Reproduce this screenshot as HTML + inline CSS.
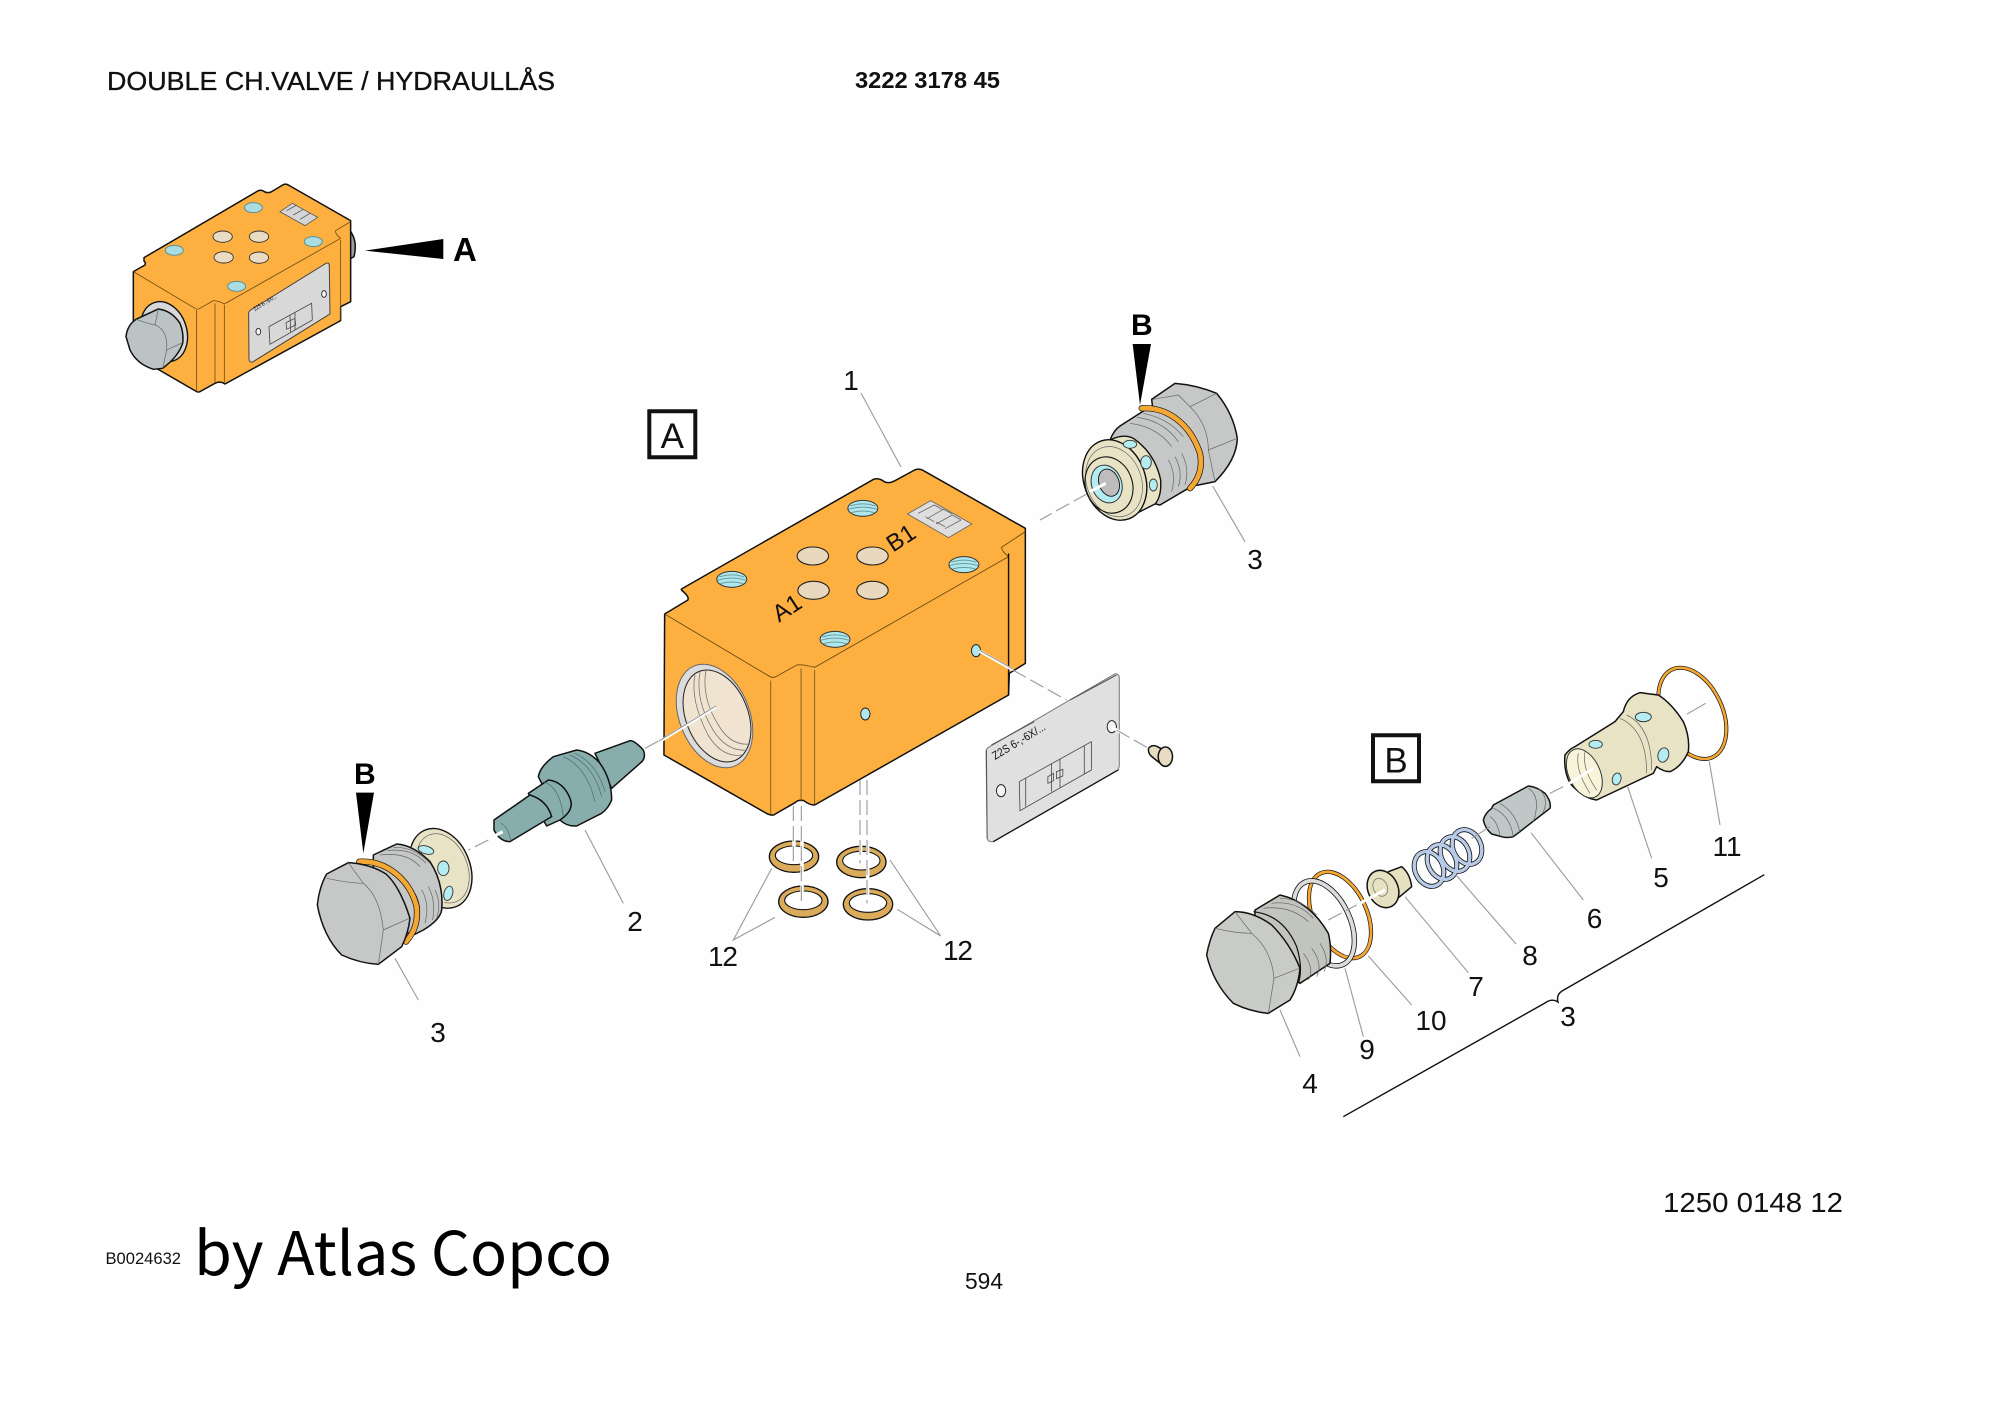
<!DOCTYPE html>
<html><head><meta charset="utf-8"><style>
html,body{margin:0;padding:0;background:#fff}
svg{display:block}
svg *{vector-effect:non-scaling-stroke}
text{font-family:"Liberation Sans",sans-serif;fill:#111}
.n{font-size:28px}
.k{stroke:#111;stroke-width:1.5;stroke-linejoin:round;stroke-linecap:round}
.t{fill:none;stroke:#666;stroke-width:.7}
.l{fill:none;stroke:#999;stroke-width:1.1}
.d{fill:none;stroke:#999;stroke-width:1.1;stroke-dasharray:15 5}
.w{fill:none;stroke:#fff;stroke-width:3}
.gr{fill:#c6c8c8}
.bh{fill:#b4ecf2;stroke:#333;stroke-width:.9}
.cr{fill:#e9e3c6;stroke:#111;stroke-width:1.4}
</style></head><body>
<svg xmlns="http://www.w3.org/2000/svg" width="2000" height="1415" viewBox="0 0 2000 1415">
<rect width="2000" height="1415" fill="#fff"/>
<rect x="124" y="183" width="1719" height="1039" fill="#fdfefd"/>

<text x="107" y="90" font-size="26" textLength="448" lengthAdjust="spacingAndGlyphs" stroke="#000" stroke-width=".3">DOUBLE CH.VALVE / HYDRAULLÅS</text>
<text x="855" y="88" font-size="23.5" font-weight="bold" textLength="145" lengthAdjust="spacingAndGlyphs">3222 3178 45</text>
<text x="105.5" y="1264" font-size="16.5" textLength="75.5" lengthAdjust="spacingAndGlyphs">B0024632</text>
<text x="194" y="1275" font-size="60" textLength="418" lengthAdjust="spacingAndGlyphs" style="font-family:'Noto Sans CJK SC',sans-serif;fill:#000">by Atlas Copco</text>
<text x="965" y="1289" font-size="23" textLength="38" lengthAdjust="spacingAndGlyphs">594</text>
<text x="1663" y="1212" font-size="28" textLength="180" lengthAdjust="spacingAndGlyphs">1250 0148 12</text>

<!-- thumbnail -->
<g transform="translate(100,160) scale(.3333)">
<path class="k" fill="#9aa0a0" d="M745,205 Q775,240 762,290 L745,300 Z"/>
<path class="k" fill="#fdb040" d="M100,335 L135,315 Q138,308 132,303 L132,293 L475,92 Q485,88 495,96 Q505,100 515,95 L550,74 Q558,70 565,75 L752,182 L752,425 L722,440 L722,482 L375,672 Q360,662 345,670 L300,695 Q295,697 290,695 L100,585 Z"/>
<path d="M100,335 L285,445 Q292,450 300,445 L340,422 Q355,422 373,432 L722,235 M722,235 Q705,222 707,212 L752,185 M290,450 L290,695 M345,430 L345,668 M373,435 L373,668 M722,240 L722,480" fill="none" stroke="#6a4a12" stroke-width=".8"/>
<g fill="#a9dde2" stroke="#5b8f90" stroke-width="1">
<ellipse cx="460" cy="143" rx="27" ry="15"/><ellipse cx="223" cy="271" rx="27" ry="15"/><ellipse cx="640" cy="245" rx="27" ry="15"/><ellipse cx="410" cy="379" rx="27" ry="15"/>
</g>
<g fill="#eadcc2" stroke="#333" stroke-width=".9">
<ellipse cx="368" cy="230" rx="29" ry="17"/><ellipse cx="477" cy="230" rx="29" ry="17"/><ellipse cx="371" cy="292" rx="29" ry="17"/><ellipse cx="477" cy="293" rx="29" ry="17"/>
</g>
<path d="M540,155 L577,130 L653,172 L615,197 Z M560,152 L590,135 M580,165 L610,148 M600,178 L630,160" fill="#d5d5d5" stroke="#555" stroke-width=".8"/>
<path d="M452,450 L678,310 Q688,306 688,318 L690,462 L458,606 Q448,608 447,598 L446,460 Q446,454 452,450 Z" fill="#d8d8d8" stroke="#444" stroke-width="1"/>
<path d="M507,500 L635,430 L637,480 L510,553 Z M570,465 L572,518 M585,458 L585,510 M558,488 L585,475 L587,495 L560,508 Z" fill="none" stroke="#444" stroke-width=".8"/>
<ellipse cx="475" cy="515" rx="7" ry="10" fill="#fff" stroke="#333"/><ellipse cx="672" cy="402" rx="7" ry="10" fill="#fff" stroke="#333"/>
<ellipse cx="192" cy="515" rx="68" ry="92" transform="rotate(-18 192 515)" fill="#d8d8d8" stroke="#111" stroke-width="1.4"/>
<path class="k" fill="#bcc3c4" d="M78,530 Q82,495 108,478 L175,447 Q215,452 240,490 Q252,520 248,550 Q235,590 188,625 L160,628 Q110,612 90,570 Z"/>
<path class="t" d="M108,478 Q140,490 165,495 L175,447 M165,495 Q205,510 200,570 L188,625 M200,570 L248,548"/>
<polygon points="795,272 1030,237 1030,297" fill="#000"/>
</g>
<text x="453" y="261" font-size="33" font-weight="bold" style="fill:#000">A</text>
<text transform="translate(255,311) rotate(-31)" font-size="6" textLength="26" lengthAdjust="spacingAndGlyphs">Z2S 6-,-6X/...</text>

<!-- A, B boxes -->
<rect x="649.3" y="411.3" width="46" height="46" fill="#fff" stroke="#111" stroke-width="4"/>
<text x="672.3" y="448" font-size="35" text-anchor="middle">A</text>
<rect x="1373" y="735.3" width="46" height="46" fill="#fff" stroke="#111" stroke-width="4"/>
<text x="1396" y="772.5" font-size="35" text-anchor="middle">B</text>

<!-- main block -->
<g transform="translate(620,440) scale(.35714,.33333)">
<path class="k" fill="#fdb040" d="M125,522 L190,480 Q195,470 172,450 L172,447 L710,118 Q725,112 740,125 Q752,132 770,122 L825,90 Q838,84 850,92 L1135,265 L1135,670 L1090,700 L1088,765 L545,1095 Q530,1095 515,1082 Q500,1078 490,1088 L430,1125 Q422,1127 410,1120 L123,945 Z"/>
<path d="M125,522 L420,710 Q430,715 440,708 L495,675 Q510,672 545,682 L1088,350 M1088,350 Q1070,335 1068,322 L1135,275" fill="none" stroke="#6a4a12" stroke-width=".9"/>
<path d="M422,722 L422,1122 M507,685 L507,1085 M545,690 L545,1092" fill="none" stroke="#7a5a20" stroke-width=".9"/>
<path d="M1088,340 L1088,765" fill="none" stroke="#111" stroke-width="1.4"/>
<g fill="#aee8ee" stroke="#333" stroke-width="1">
<ellipse cx="680" cy="205" rx="42" ry="24"/><ellipse cx="313" cy="418" rx="42" ry="24"/><ellipse cx="963" cy="374" rx="42" ry="24"/><ellipse cx="602" cy="598" rx="42" ry="24"/>
</g>
<path d="M645,198 Q680,185 715,198 M640,208 Q680,195 720,208 M648,218 Q680,208 712,218 M278,411 Q313,398 348,411 M273,421 Q313,408 353,421 M281,431 Q313,421 345,431 M928,367 Q963,354 998,367 M923,377 Q963,364 1003,377 M931,387 Q963,377 995,387 M567,591 Q602,578 637,591 M562,601 Q602,588 642,601 M570,611 Q602,601 634,611" fill="none" stroke="#6e9c9d" stroke-width="1"/>
<g fill="#e8d9be" stroke="#222" stroke-width="1.1">
<ellipse cx="540" cy="348" rx="44" ry="27"/><ellipse cx="707" cy="348" rx="44" ry="27"/><ellipse cx="542" cy="451" rx="44" ry="27"/><ellipse cx="707" cy="451" rx="44" ry="27"/>
</g>
<path d="M805,222 L870,182 L985,252 L920,293 Z" fill="#dedede" stroke="#666" stroke-width=".9"/>
<path d="M835,220 L880,195 L905,210 M860,236 L905,208 L930,222 M885,252 L930,225 L955,240 M910,266 L955,240 M855,230 L880,245 M885,246 L910,260" fill="none" stroke="#666" stroke-width=".8"/>
<ellipse cx="997" cy="632" rx="13" ry="18" fill="#aee8ee" stroke="#222" stroke-width="1"/>
<ellipse cx="687" cy="822" rx="13" ry="18" fill="#aee8ee" stroke="#222" stroke-width="1"/>
<!-- nameplate -->
<path d="M1035,920 L1385,702 Q1397,700 1398,712 L1398,978 L1395,990 L1045,1205 Q1030,1207 1028,1195 L1025,935 Q1025,925 1035,920 Z" fill="#e0e0e0" stroke="#777" stroke-width="1"/>
<path d="M1045,1205 L1395,990" stroke="#111" stroke-width="1.3" fill="none"/>
<path d="M1040,915 L1160,845 M1260,780 L1390,705 M1028,1195 L1026,930" stroke="#555" stroke-width="1" fill="none"/>
<path d="M1118,1025 L1320,905 L1320,990 L1120,1112 Z M1136,1015 L1136,1100 M1300,917 L1300,1002 M1208,970 L1208,1055 M1232,958 L1232,1042 M1198,1010 L1214,1000 L1214,1022 L1198,1030 Z M1222,995 L1240,988 L1240,1008 L1222,1016 Z" fill="none" stroke="#444" stroke-width=".8"/>
<ellipse cx="1067" cy="1052" rx="13" ry="18" fill="#f4f4f4" stroke="#222" stroke-width="1"/>
<ellipse cx="1377" cy="860" rx="13" ry="18" fill="#f4f4f4" stroke="#222" stroke-width="1"/>
<path class="w" d="M1005,632 L1100,690 M1377,862 L1440,900"/>
<path class="d" d="M1100,690 L1250,780 M1390,870 L1480,925"/>
<path d="M1005,630 L1100,687" stroke="#888" stroke-width=".8" fill="none"/>
<!-- screw -->
<path class="k" fill="#e7dcc0" d="M1480,925 Q1490,912 1505,920 L1530,935 L1510,968 L1487,948 Q1478,938 1480,925 Z"/>
<ellipse cx="1527" cy="950" rx="20" ry="29" class="k" fill="#e7dcc0"/>
</g>
<ellipse cx="714.5" cy="716" rx="35" ry="54" transform="rotate(-22 714.5 716)" fill="#dcdcdc" stroke="#666" stroke-width="1"/>
<ellipse cx="717" cy="716" rx="31" ry="48" transform="rotate(-22 717 716)" fill="#f0e3cf" stroke="#222" stroke-width="1"/>
<path d="M695,675 Q690,700 708,735 Q722,758 742,755 M700,672 Q695,700 713,730 Q727,752 747,750 M706,670 Q701,698 719,726 Q731,746 750,744" fill="none" stroke="#777" stroke-width=".8"/>
<path class="w" d="M716,707 L659,742"/>
<path d="M716,706 L659,741" stroke="#888" stroke-width=".8" fill="none"/>
<text transform="translate(787,608) rotate(-33)" font-size="24" text-anchor="middle" y="8">A1</text>
<text transform="translate(901,538) rotate(-33)" font-size="24" text-anchor="middle" y="8">B1</text>
<text transform="translate(995,760) rotate(-31)" font-size="11.5" textLength="60" lengthAdjust="spacingAndGlyphs">Z2S 6-,-6X/...</text>

<!-- rings and dashes -->
<g transform="translate(700,780) scale(.33333)">
<g>
<ellipse cx="282" cy="230" rx="74" ry="47" fill="#d9ab5b" stroke="#111" stroke-width="1.3"/>
<ellipse cx="282" cy="226" rx="56" ry="28" fill="#fdfefd" stroke="#111" stroke-width="1.1"/>
<ellipse cx="310" cy="365" rx="74" ry="47" fill="#d9ab5b" stroke="#111" stroke-width="1.3"/>
<ellipse cx="310" cy="361" rx="56" ry="28" fill="#fdfefd" stroke="#111" stroke-width="1.1"/>
<ellipse cx="484" cy="246" rx="74" ry="47" fill="#d9ab5b" stroke="#111" stroke-width="1.3"/>
<ellipse cx="484" cy="242" rx="56" ry="28" fill="#fdfefd" stroke="#111" stroke-width="1.1"/>
<ellipse cx="504" cy="373" rx="74" ry="47" fill="#d9ab5b" stroke="#111" stroke-width="1.3"/>
<ellipse cx="504" cy="369" rx="56" ry="28" fill="#fdfefd" stroke="#111" stroke-width="1.1"/>
</g>
<path class="w" d="M282,180 L282,250 M306,180 L306,375 M482,195 L482,250 M503,195 L503,370" style="stroke-width:3.5"/>
<path class="d" d="M280,78 L280,250 M304,78 L304,375 M480,0 L480,250 M501,0 L501,370"/>
<path class="l" d="M215,265 L100,480 L225,412 M570,240 L722,468 L592,388"/>
</g>
<text x="708" y="966" class="n" textLength="30">12</text>
<text x="943" y="960" class="n" textLength="30">12</text>

<!-- top right valve -->
<g transform="translate(1040,300) scale(.33333)">
<path class="k gr" d="M335,298 L405,250 Q470,255 530,280 Q580,340 592,415 Q590,480 525,545 L470,556 L400,460 L340,340 Z"/>
<path class="t" d="M450,320 L415,285 L340,298 M450,320 L530,280 M450,320 Q505,375 505,450 L525,545 M505,450 L592,415"/>
<path class="k gr" d="M210,420 Q222,390 240,378 L315,330 C380,325 450,370 478,460 C488,510 470,545 445,565 L360,615 Q325,610 300,570 Z"/>
<path class="t" d="M270,370 Q350,380 395,440 M290,352 Q370,362 415,425 M310,340 Q385,355 430,410 M385,480 Q410,520 395,575 M405,470 Q430,515 415,560 M425,460 Q450,505 435,555"/>
<path d="M305,325 C380,320 450,370 480,460 C490,510 470,545 450,565" fill="none" stroke="#111" stroke-width="6.2" stroke-linecap="round"/>
<path d="M305,325 C380,320 450,370 480,460 C490,510 470,545 450,565" fill="none" stroke="#f5a733" stroke-width="4.8" stroke-linecap="round"/>
<path class="cr" d="M210,420 Q250,400 280,415 Q345,460 362,540 Q365,590 345,612 L290,640 L210,500 Z"/>
<ellipse cx="224" cy="540" rx="92" ry="124" transform="rotate(-20 224 540)" class="cr"/>
<ellipse cx="222" cy="545" rx="82" ry="108" transform="rotate(-20 222 545)" fill="none" stroke="#666" stroke-width=".7"/>
<ellipse cx="207" cy="555" rx="70" ry="86" transform="rotate(-20 207 555)" fill="none" stroke="#111" stroke-width="1.1"/>
<ellipse cx="200" cy="552" rx="45" ry="58" transform="rotate(-20 200 552)" fill="#b4ecf2" stroke="#333" stroke-width="1"/>
<ellipse cx="207" cy="548" rx="30" ry="42" transform="rotate(-20 207 548)" fill="#bdbdbd" stroke="#111" stroke-width=".9"/>
<ellipse cx="270" cy="433" rx="20" ry="12" class="bh"/>
<ellipse cx="318" cy="487" rx="16" ry="20" class="bh"/>
<ellipse cx="340" cy="555" rx="12" ry="18" class="bh"/>
<polygon points="278,132 333,132 300,315" fill="#000"/>
<path class="w" d="M197,550 L150,575"/>
<path class="d" d="M140,582 L0,660"/>
<path class="l" d="M518,558 L615,725"/>
</g>
<text x="1131" y="335" font-size="30" font-weight="bold" style="fill:#000">B</text>
<text x="1255" y="569" class="n" text-anchor="middle">3</text>

<!-- left valve + part 2 -->
<g transform="translate(300,720) scale(.33333)">
<ellipse cx="422" cy="445" rx="88" ry="124" transform="rotate(-22 422 445)" class="cr"/>
<ellipse cx="428" cy="445" rx="74" ry="108" transform="rotate(-22 428 445)" fill="none" stroke="#666" stroke-width=".7"/>
<path class="cr" d="M330,380 Q380,385 420,450 Q450,510 430,555 L400,560 L320,420 Z" style="stroke:none"/>
<ellipse cx="378" cy="390" rx="24" ry="12" transform="rotate(15 378 390)" class="bh"/>
<ellipse cx="430" cy="445" rx="17" ry="22" class="bh"/>
<ellipse cx="445" cy="520" rx="13" ry="22" transform="rotate(15 445 520)" class="bh"/>
<path class="k gr" d="M220,405 L290,372 Q340,375 390,425 Q432,490 425,570 Q420,600 370,630 L330,650 L220,450 Z"/>
<path class="t" d="M240,405 Q320,395 360,440 M262,392 Q335,382 378,430 M280,382 Q345,380 392,432 M345,520 Q370,560 352,625 M365,510 Q390,550 375,610 M385,500 Q408,540 398,600 M405,510 Q425,550 410,595"/>
<path d="M178,425 C260,420 330,480 350,560 C355,610 340,640 318,665" fill="none" stroke="#111" stroke-width="6.2" stroke-linecap="round"/>
<path d="M178,425 C260,420 330,480 350,560 C355,610 340,640 318,665" fill="none" stroke="#f5a733" stroke-width="4.8" stroke-linecap="round"/>
<path class="k gr" d="M52,555 Q58,500 80,462 L145,428 Q210,432 258,462 Q300,500 330,595 Q325,640 305,680 L235,733 Q180,730 125,705 Q70,650 52,555 Z"/>
<path class="t" d="M80,475 Q150,490 190,490 L145,428 M190,490 Q240,530 250,630 L235,733 M250,630 L328,595"/>
<path class="k" fill="#87adad" d="M885,100 L990,62 Q1005,62 1030,90 Q1040,115 1020,130 L935,205 Z"/>
<path class="k" fill="#87adad" d="M715,170 Q720,140 760,110 L830,90 Q870,95 900,130 Q935,180 935,240 Q925,265 905,280 L830,318 Q800,320 780,300 Z"/>
<path class="k" fill="#87adad" d="M685,220 L745,180 Q790,185 810,235 Q825,270 780,300 L740,318 Z"/>
<path class="k" fill="#87adad" d="M582,300 L690,225 Q740,240 755,290 L630,365 Q600,365 582,330 Z"/>
<path d="M790,110 Q860,140 885,245 M810,105 Q880,135 905,230 M825,100 Q890,130 915,215 M730,185 Q780,200 790,290 M602,310 Q625,320 632,360" fill="none" stroke="#4f6e6e" stroke-width=".7"/>
<path class="w" d="M608,335 L570,355"/>
<path class="d" d="M565,360 L505,390 M1035,85 L1090,55"/>
<polygon points="168,218 222,218 190,400" fill="#000"/>
<path class="l" d="M855,330 L970,550 M285,715 L355,840"/>
</g>
<text x="354" y="784" font-size="30" font-weight="bold" style="fill:#000">B</text>
<text x="635" y="931" class="n" text-anchor="middle">2</text>
<text x="438" y="1042" class="n" text-anchor="middle">3</text>
<text x="851" y="390" class="n" text-anchor="middle">1</text>
<path class="l" d="M861,393 L901,467"/>

<!-- exploded B -->
<g transform="translate(1200,840) scale(.33333)">
<ellipse cx="420" cy="225" rx="80" ry="138" transform="rotate(-25 420 225)" fill="none" stroke="#111" stroke-width="4.2"/>
<ellipse cx="420" cy="225" rx="80" ry="138" transform="rotate(-25 420 225)" fill="none" stroke="#f5a733" stroke-width="2.8"/>
<ellipse cx="372" cy="250" rx="78" ry="136" transform="rotate(-25 372 250)" fill="none" stroke="#111" stroke-width="5.4"/>
<ellipse cx="372" cy="250" rx="78" ry="136" transform="rotate(-25 372 250)" fill="none" stroke="#dcdcdc" stroke-width="3.8"/>
<path d="M165,210 L240,165 Q330,185 385,280 Q395,320 390,370 L300,430 L165,280 Z" class="k" fill="#c2c4be"/>
<path class="t" d="M190,205 Q270,195 325,245 M215,190 Q290,180 340,235 M240,175 Q300,175 350,225 M310,340 Q345,385 325,420 M335,325 Q370,370 350,410 M360,310 Q390,355 372,395"/>
<path d="M160,215 Q250,225 290,320 Q310,385 295,430" fill="none" stroke="#111" stroke-width="1.2"/>
<path class="k" fill="#c9cbc6" d="M20,345 Q28,300 45,265 L105,215 Q160,215 215,255 Q270,310 300,385 Q295,440 270,480 L205,520 Q150,515 100,490 Q40,430 20,345 Z"/>
<path class="t" d="M45,265 Q105,280 155,280 L105,215 M155,280 Q215,330 222,415 L205,520 M222,415 L298,385"/>
<path class="k" fill="#e6e2c1" d="M565,95 L605,80 Q630,100 635,140 L597,172 L560,130 Z"/>
<ellipse cx="549" cy="147" rx="45" ry="58" transform="rotate(-25 549 147)" class="k" fill="#e6e2c1"/>
<ellipse cx="541" cy="142" rx="21" ry="28" transform="rotate(-25 541 142)" fill="none" stroke="#777" stroke-width=".8"/>
<path class="w" d="M480,190 L555,150"/>
<path d="M385,240 L470,195" class="d"/>
<path class="l" d="M240,510 L300,650 M435,385 L490,590 M505,348 L635,495 M615,170 L805,398"/>
</g>
<!-- spring -->
<g fill="none">
<g stroke="#111" stroke-width="5">
<ellipse cx="1467" cy="847" rx="14" ry="18" transform="rotate(-25 1467 847)"/>
<ellipse cx="1455" cy="854" rx="14" ry="18" transform="rotate(-25 1455 854)"/>
<ellipse cx="1442" cy="862" rx="14" ry="18" transform="rotate(-25 1442 862)"/>
<ellipse cx="1429" cy="869" rx="14" ry="18" transform="rotate(-25 1429 869)"/>
</g>
<g stroke="#b7cbe8" stroke-width="3.4">
<ellipse cx="1467" cy="847" rx="14" ry="18" transform="rotate(-25 1467 847)"/>
<ellipse cx="1455" cy="854" rx="14" ry="18" transform="rotate(-25 1455 854)"/>
<ellipse cx="1442" cy="862" rx="14" ry="18" transform="rotate(-25 1442 862)"/>
<ellipse cx="1429" cy="869" rx="14" ry="18" transform="rotate(-25 1429 869)"/>
</g>
</g>
<g transform="translate(1450,680) scale(.33333)">
<ellipse cx="727" cy="100" rx="90" ry="145" transform="rotate(-25 727 100)" fill="none" stroke="#111" stroke-width="4"/>
<ellipse cx="727" cy="100" rx="90" ry="145" transform="rotate(-25 727 100)" fill="none" stroke="#f5a733" stroke-width="2.6"/>
<path class="k" fill="#e8e3c5" d="M345,225 Q360,205 375,200 L495,125 L520,95 Q530,50 570,38 L625,45 Q665,70 700,125 Q720,170 715,215 Q695,260 660,275 Q640,275 620,260 L610,280 L440,360 Q400,355 360,310 Q340,270 345,225 Z"/>
<ellipse cx="403" cy="280" rx="47" ry="78" transform="rotate(-25 403 280)" fill="#f7f4da" stroke="#333" stroke-width="1"/>
<path class="t" d="M385,220 Q375,270 420,340 M405,215 Q395,265 440,330 M510,115 Q590,150 590,280 M530,105 Q605,140 605,270"/>
<ellipse cx="580" cy="111" rx="24" ry="14" class="bh"/>
<ellipse cx="437" cy="193" rx="20" ry="12" class="bh"/>
<ellipse cx="640" cy="225" rx="16" ry="22" transform="rotate(15 640 225)" class="bh"/>
<ellipse cx="500" cy="297" rx="13" ry="18" transform="rotate(15 500 297)" class="bh"/>
<path class="k" fill="#bfc7c7" d="M100,420 Q105,400 125,385 L130,375 L235,318 Q260,320 285,340 Q305,365 300,385 L190,470 Q170,475 155,470 L125,462 Q105,445 100,420 Z"/>
<path class="t" d="M130,385 Q180,405 190,470 M150,370 Q200,400 210,460 M235,325 Q275,350 250,425 M265,325 Q300,355 278,400 M120,410 Q140,420 150,465"/>
<path class="w" d="M350,315 L430,265"/>
<path class="l" d="M300,340 L340,320 M65,475 L120,440 M710,103 L767,70 M778,245 L810,435 M533,320 L605,535 M243,458 L400,660"/>
</g>
<path class="l" d="M1456,875 L1516,944"/>
<path d="M1343.3,1116.7 L1545,1003 Q1552,998 1558,1002 Q1556,995 1562,991 L1764.3,874.7" fill="none" stroke="#111" stroke-width="1.4"/>
<text x="1310" y="1093" class="n" text-anchor="middle">4</text>
<text x="1367" y="1059" class="n" text-anchor="middle">9</text>
<text x="1431" y="1030" class="n" text-anchor="middle">10</text>
<text x="1476" y="996" class="n" text-anchor="middle">7</text>
<text x="1530" y="965" class="n" text-anchor="middle">8</text>
<text x="1594.5" y="928" class="n" text-anchor="middle">6</text>
<text x="1661" y="887" class="n" text-anchor="middle">5</text>
<text x="1727" y="856" class="n" text-anchor="middle">11</text>
<text x="1568" y="1026" class="n" text-anchor="middle">3</text>
</svg>
</body></html>
